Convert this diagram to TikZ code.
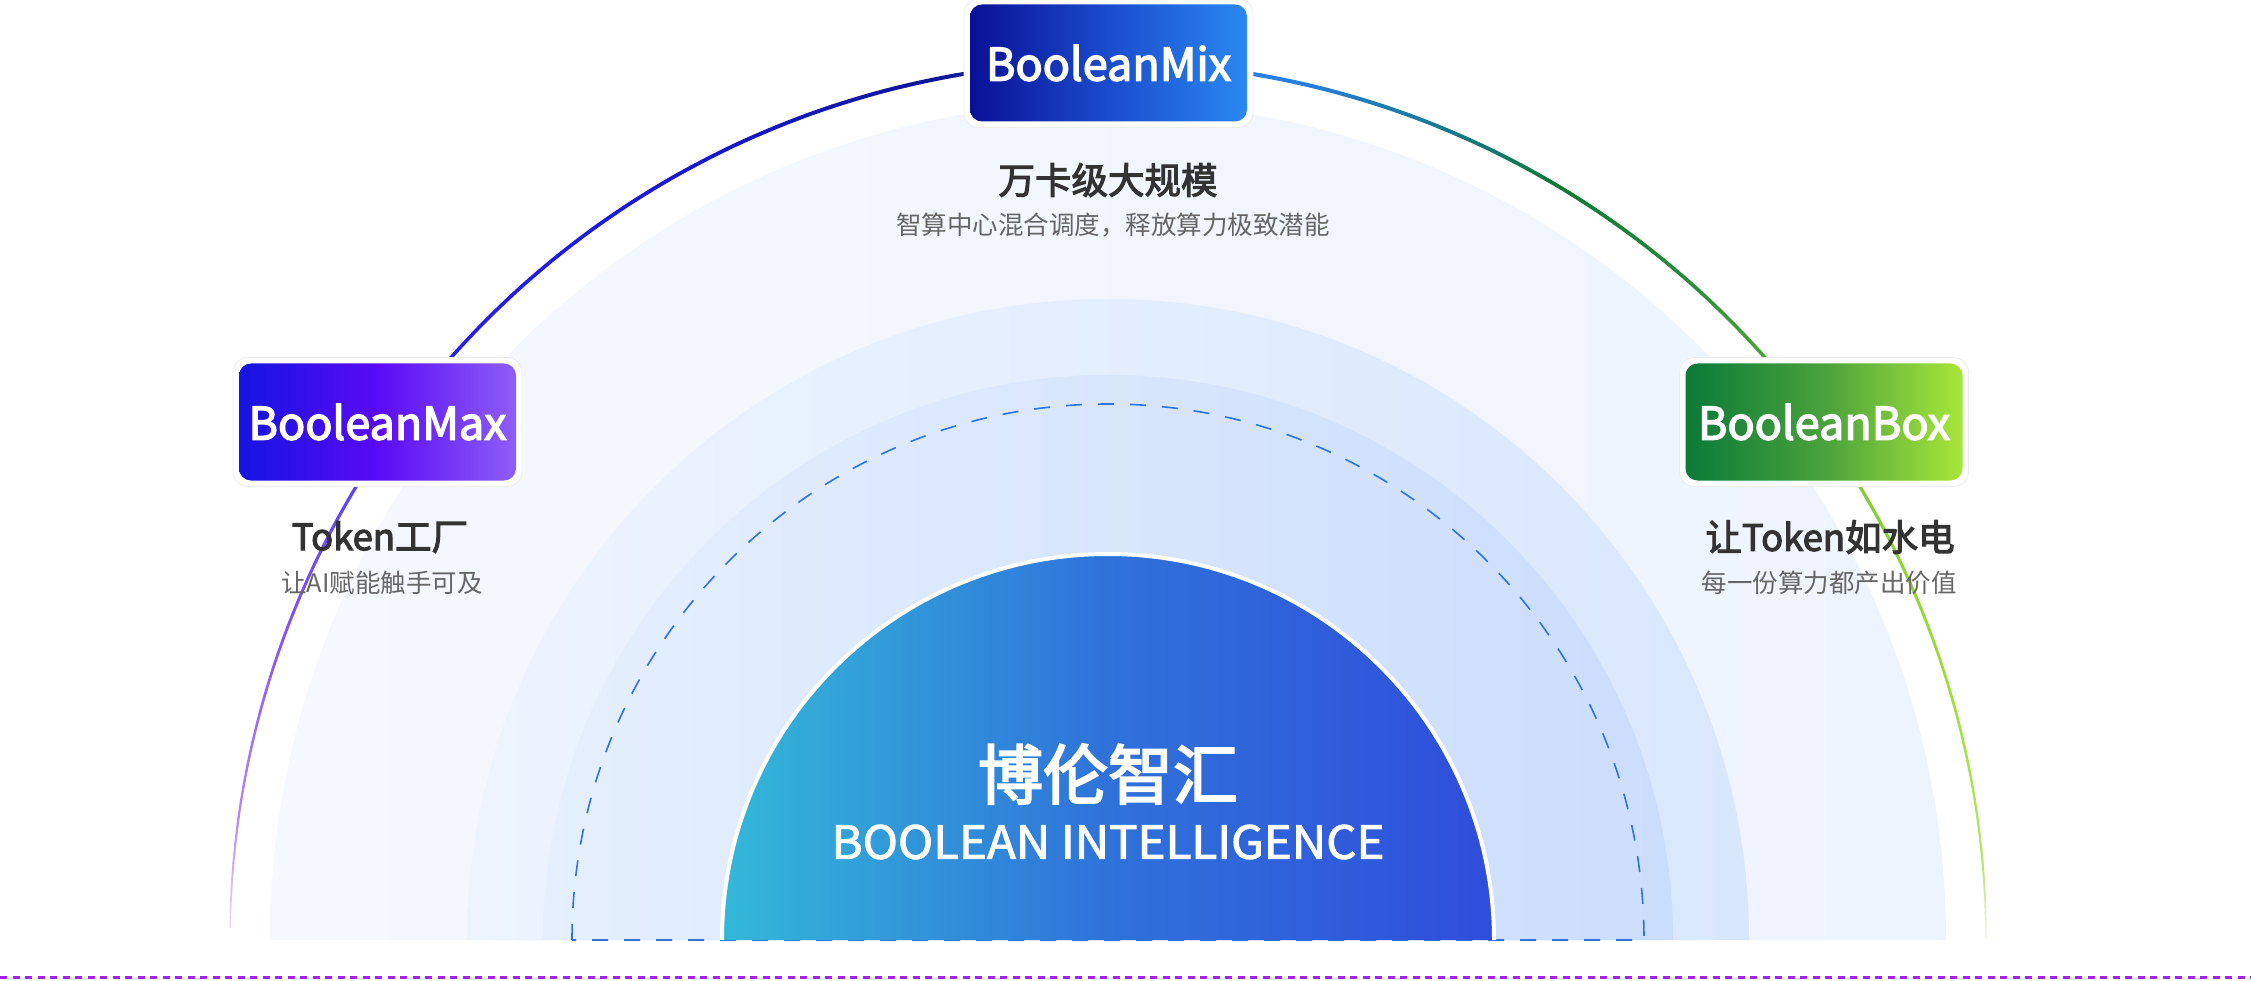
\documentclass[tikz,border=0pt]{standalone}
\usepackage{fontspec}
\usepackage{graphicx}
\setmainfont{Noto Sans CJK SC}
\newfontfamily\medfont{Noto Sans CJK SC}[FakeBold=3]
\newfontfamily\semifont{Noto Sans CJK SC}[FakeBold=2]
\definecolor{bandAL}{HTML}{F5F8FE}
\definecolor{bandAR}{HTML}{EEF4FE}
\definecolor{bandBL}{HTML}{EDF4FE}
\definecolor{bandBR}{HTML}{D9E7FD}
\definecolor{bandCL}{HTML}{E5EFFD}
\definecolor{bandCR}{HTML}{CBDDFC}
\definecolor{dashblue}{HTML}{2F73E0}
\definecolor{domeL}{HTML}{33B8D8}
\definecolor{domeM}{HTML}{2F72DA}
\definecolor{domeR}{HTML}{2F4DDB}
\definecolor{mixL}{HTML}{0A1096}
\definecolor{mixM}{HTML}{1A4CCC}
\definecolor{mixR}{HTML}{2A88F2}
\definecolor{maxL}{HTML}{1414E0}
\definecolor{maxM}{HTML}{5A0AF6}
\definecolor{maxR}{HTML}{8E5EF8}
\definecolor{boxL}{HTML}{0A7A38}
\definecolor{boxM}{HTML}{4AA23C}
\definecolor{boxR}{HTML}{A8E63A}
\definecolor{titlegray}{HTML}{333333}
\definecolor{subgray}{HTML}{666666}
\definecolor{dotpurple}{HTML}{A51FF0}
\definecolor{cA}{HTML}{EADDFC}
\definecolor{cB}{HTML}{B38CF6}
\definecolor{cC}{HTML}{8656F2}
\definecolor{cD}{HTML}{5C42F2}
\definecolor{cE}{HTML}{2A1EE6}
\definecolor{cF}{HTML}{1A18D6}
\definecolor{cG}{HTML}{0E1696}
\definecolor{cH}{HTML}{2A80F0}
\definecolor{cI}{HTML}{1A7AA4}
\definecolor{cJ}{HTML}{0C7A34}
\definecolor{cK}{HTML}{2A8E3C}
\definecolor{cL}{HTML}{4EA43A}
\definecolor{cM}{HTML}{84CC34}
\definecolor{cN}{HTML}{A0E040}
\definecolor{cO}{HTML}{B6E46A}
\definecolor{cP}{HTML}{EEF8DC}
\tikzset{
  boxwrap/.style={rounded corners=15pt, fill=white, draw=black!7, line width=0.8pt,
    minimum width=289pt, minimum height=129pt, inner sep=0pt},
  boxin/.style={rounded corners=12pt, minimum width=277pt, minimum height=117pt,
    inner sep=0pt, text=white, font=\medfont\fontsize{45}{50}\selectfont},
  titletext/.style={text=titlegray, font=\medfont\fontsize{36.5}{40}\selectfont, inner sep=0pt},
  subtext/.style={text=subgray, font=\fontsize{25.5}{28}\selectfont, inner sep=0pt},
  dashring/.style={draw=dashblue, line width=1.6pt, dash pattern=on 16pt off 16pt},
  dotline/.style={draw=dotpurple, line width=3pt, dash pattern=on 7pt off 5.5pt}
}
\begin{document}
\begin{tikzpicture}[x=1pt,y=1pt]
\useasboundingbox (0,0) rectangle (2251,-981);
\fill[white] (0,0) rectangle (2251,-981);
% bands
\shade[left color=bandAL, right color=bandAR] (270,-940) arc[start angle=180,end angle=0,radius=838] -- cycle;
\shade[left color=bandBL, right color=bandBR] (467,-940) arc[start angle=180,end angle=0,radius=641] -- cycle;
\shade[left color=bandCL, right color=bandCR] (543,-940) arc[start angle=180,end angle=0,radius=565] -- cycle;
\draw[dashring] (572,-940) arc[start angle=180,end angle=0,radius=536] -- cycle;
% dome
\shade[left color=domeL, right color=domeR, middle color=domeM] (722,-940) arc[start angle=180,end angle=0,radius=386] -- cycle;
\draw[white, line width=4pt] (722,-940) arc[start angle=180,end angle=0,radius=386];
\node[text=white, font=\medfont\fontsize{65}{70}\selectfont, inner sep=0pt] (cn) at (1108,-774) {博伦智汇};
\node[text=white, font=\semifont, inner sep=0pt] (en) at (1108,-842) {\resizebox{553pt}{34pt}{BOOLEAN INTELLIGENCE}};
% outer gradient arc
\foreach \a/\b/\ca/\cb in {179.2/172/cA/cB, 172/160/cB/cC, 160/149/cC/cD, 149/138/cD/cE, 138/120/cE/cF, 120/100/cF/cG, 100/80/cG/cH, 80/69/cH/cI, 69/59/cI/cJ, 59/48/cJ/cK, 48/41/cK/cL, 41/31/cL/cM, 31/15/cM/cN, 15/5/cN/cO, 5/0.1/cO/cP}{
  \foreach \i in {0,...,11}{
    \pgfmathsetmacro\ts{\a+(\b-\a)*\i/12}
    \pgfmathsetmacro\te{\a+(\b-\a)*(\i+1)/12}
    \pgfmathtruncatemacro\p{100-100*(\i+0.5)/12}
    \pgfmathsetmacro\w{1.2+2.8*sqrt(abs(sin(\ts)))}
    \draw[line width=\w pt, line cap=round, color=\ca!\p!\cb] ({1108+878*cos(\ts)},{-940+878*sin(\ts)}) arc[start angle=\ts, end angle=\te, radius=878];
  }
}
% boxes
\node[boxwrap] (mixW) at (1108.5,-63) {};
\node[boxin, left color=mixL, right color=mixR, middle color=mixM] (mix) at (1108.5,-63) {BooleanMix};
\node[boxwrap] (maxW) at (377.5,-422) {};
\node[boxin, left color=maxL, right color=maxR, middle color=maxM] (max) at (377.5,-422) {BooleanMax};
\node[boxwrap] (boxW) at (1824,-422) {};
\node[boxin, left color=boxL, right color=boxR, middle color=boxM] (box) at (1824,-422) {BooleanBox};
% texts
\node[titletext] (mixT) at (1108,-180) {万卡级大规模};
\node[subtext] (mixS) at (1113,-225) {智算中心混合调度，释放算力极致潜能};
\node[titletext] (maxT) at (380,-537) {Token工厂};
\node[subtext] (maxS) at (382,-583) {让AI赋能触手可及};
\node[titletext] (boxT) at (1830,-537) {让Token如水电};
\node[subtext] (boxS) at (1829,-583) {每一份算力都产出价值};
% bottom dotted line
\draw[dotline] (0,-977) -- (2251,-977);
\end{tikzpicture}
\end{document}
